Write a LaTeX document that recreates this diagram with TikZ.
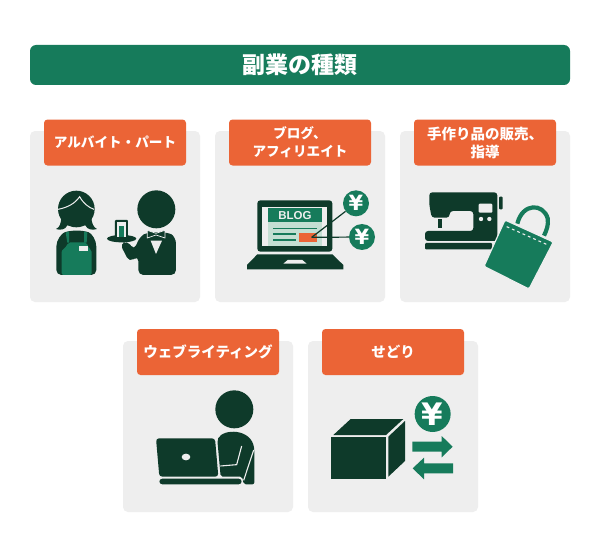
\documentclass[tikz,border=0pt]{standalone}
\usepackage{fontspec}
\setmainfont{Noto Sans CJK JP}
\newfontfamily\latinb{Liberation Sans}
\newfontfamily\yenfont{DejaVu Sans}
\definecolor{dk}{HTML}{0E3A2A}
\definecolor{gr}{HTML}{167B5B}
\definecolor{org}{HTML}{EB6436}
\definecolor{cardbg}{HTML}{EEEEEE}
\definecolor{lgr}{HTML}{C4DFD3}
\tikzset{
  card/.style={fill=cardbg,draw=none,rounded corners=5pt,minimum width=170pt,minimum height=171pt,inner sep=0pt},
  label/.style={fill=org,draw=none,rounded corners=3.5pt,minimum width=142pt,minimum height=46pt,inner sep=0pt,text=white,align=center,font=\bfseries\fontsize{13.6}{18}\selectfont},
  labelwide/.style={label,font=\bfseries\fontsize{14.5}{18}\selectfont},
  titlebar/.style={fill=gr,draw=none,rounded corners=6pt,minimum width=540pt,minimum height=40pt,inner sep=0pt,text=white,font=\bfseries\fontsize{23}{26}\selectfont},
  yen/.style={circle,fill=gr,draw=none,inner sep=0pt,text=white},
  icon/.style={shift={#1},scale=1/3}
}
\begin{document}
\begin{tikzpicture}[x=1pt,y=-1pt]
\useasboundingbox (0,0) rectangle (600,551);
\fill[white] (0,0) rectangle (600,551);
\node[titlebar] (title) at (300,65) {副業の種類};
\node[card] (c1) at (115,216.5) {};
\node[card] (c2) at (300,216.5) {};
\node[card] (c3) at (485,216.5) {};
\node[card] (c4) at (208,426.5) {};
\node[card] (c5) at (393,426.5) {};
\node[label] (l1) at (115,142.5) {アルバイト・パート};
\node[label] (l2) at (300,142.5) {ブログ、\\アフィリエイト};
\node[labelwide] (l3) at (485,142.5) {手作り品の販売、\\指導};
\node[labelwide] (l4) at (208,352) {ウェブライティング};
\node[labelwide] (l5) at (393,352) {せどり};
% waitress and waiter
\begin{scope}[icon={(30,120)}]
  \fill[dk] (139,267) circle (55);
  \fill[dk] (78,327) .. controls (90,322) and (92,310) .. (94,295) -- (184,295) .. controls (186,310) and (190,322) .. (201,327) .. controls (188,331) and (172,330) .. (166,316) -- (112,316) .. controls (106,330) and (90,331) .. (78,327) -- cycle;
  \draw[cardbg,line width=1pt] (84,268) .. controls (115,262) and (135,250) .. (149,230) .. controls (160,250) and (175,262) .. (192,268);
  \fill[dk,rounded corners=5pt] (79,465) -- (79,395) .. controls (79,360) and (95,340) .. (118,332) -- (162,332) .. controls (185,340) and (199,360) .. (199,395) -- (199,465) -- cycle;
  \fill[gr,rounded corners=2pt] (95,465) -- (95,402) .. controls (95,388) and (107,385) .. (115,367) -- (162,367) -- (170,367) .. controls (175,385) and (185,388) .. (185,402) -- (185,465) -- cycle;
  \fill[gr] (107,338) -- (117,334) -- (117,368) -- (112,368) -- cycle (162,334) -- (172,338) -- (170,368) -- (162,368) -- cycle;
  \fill[cardbg] (148,378) rectangle (173,392);
  % waiter
  \fill[dk] (379,268) circle (57);
  \fill[dk,rounded corners=5pt] (325,465) -- (325,408) -- (298,426) -- (270,372) -- (292,362) -- (312,390) -- (330,350) -- (352,337) -- (410,337) .. controls (430,345) and (438,360) .. (438,385) -- (438,465) -- cycle;
  \fill[cardbg] (362,362) -- (396,362) -- (378,402) -- cycle;
  \fill[dk,draw=cardbg,line width=.7pt] (352,331) -- (378,340) -- (405,331) -- (405,354) -- (378,345) -- (352,354) -- cycle;
  \fill[dk] (275,356) ellipse (44 and 11);
  \fill[dk,rounded corners=1pt] (255,300) rectangle (294,352);
  \fill[cardbg] (261,307) rectangle (288,350);
  \fill[gr] (266,318) rectangle (283,350);
\end{scope}
% laptop + blog
\begin{scope}[icon={(215,115)}]
  \fill[dk,rounded corners=3pt] (127,256) rectangle (352,410);
  \fill[cardbg] (142,275) rectangle (337,392);
  \fill[lgr] (160,280) rectangle (320,392);
  \fill[gr] (160,280) rectangle (320,320);
  \node[text=cardbg,font=\latinb\bfseries\fontsize{11.5}{11.5}\selectfont,inner sep=0pt] (blog) at (240,301) {BLOG};
  \draw[gr,line width=1.1pt] (174,340) -- (305,340) (174,357) -- (243,357) (174,375) -- (243,375);
  \fill[org] (253,353) rectangle (306,381);
  \coordinate (hub1) at (290,367);
  \fill[dk] (127,418) -- (352,418) -- (385,450) -- (385,463) -- (96,463) -- (96,450) -- cycle;
  \fill[cardbg] (218,435) -- (262,435) -- (275,446) -- (205,446) -- cycle;
  \node[yen,minimum size=26pt,font=\yenfont\bfseries\fontsize{21}{21}\selectfont] (y1) at (423,265) {¥};
  \node[yen,minimum size=26pt,font=\yenfont\bfseries\fontsize{21}{21}\selectfont] (y2) at (441,366) {¥};
  \draw[dk,line width=1.2pt] (hub1) -- (y1);
  \draw[dk,line width=1.2pt] (hub1) -- (y2);
\end{scope}
% sewing machine + bag
\begin{scope}[icon={(400,115)}]
  \fill[dk,rounded corners=3pt,even odd rule] (88,232) -- (292,232) -- (292,378) -- (75,378) -- (75,348) -- (220,348) -- (220,288) -- (150,288) -- (148,308) -- (95,308) -- (88,270) -- cycle;
  \fill[dk] (114,312) rectangle (125,338);
  \fill[dk,rounded corners=1pt] (75,384) rectangle (276,403);
  \fill[dk,rounded corners=1pt] (297,245) rectangle (308,283);
  \fill[cardbg,rounded corners=1pt] (236,266) rectangle (277,293);
  \fill[cardbg] (243,312) circle (6.5) (268,312) circle (6.5);
  \draw[gr,line width=4.2pt] (352,326) .. controls (368,262) and (430,265) .. (443,310) .. controls (446,330) and (440,345) .. (432,362);
  \fill[gr,draw=cardbg,line width=1.2pt,rounded corners=2pt] (315,315) -- (460,381) -- (387,522) -- (252,454) -- cycle;
  \draw[cardbg,line width=1.1pt,dash pattern=on 2.8pt off 3pt] (320,335) -- (446,391);
\end{scope}
% web writer
\begin{scope}[icon={(120,325)}]
  \fill[dk] (343,253) circle (57);
  \fill[dk,rounded corners=3pt] (108,340) -- (285,340) -- (295,455) -- (118,455) -- cycle;
  \fill[cardbg] (198,396) ellipse (13 and 10);
  \fill[dk,rounded corners=3pt] (118,461) rectangle (365,478);
  \fill[dk,rounded corners=2pt] (292,345) .. controls (310,310) and (395,310) .. (403,375) -- (403,478) -- (371,478) -- (367,455) -- (302,455) -- cycle;
  \draw[cardbg,line width=1.1pt] (365,363) -- (350,419) -- (301,423);
  \draw[cardbg,line width=1.1pt] (401,375) -- (371,466);
\end{scope}
% box
\begin{scope}[icon={(305,325)}]
  \fill[dk] (77,337) rectangle (243,462);
  \fill[dk] (85,330) -- (137,282) -- (295,282) -- (243,330) -- cycle;
  \fill[dk] (250,335) -- (300,288) -- (300,408) -- (250,455) -- cycle;
  \node[yen,minimum size=36pt,font=\yenfont\bfseries\fontsize{31}{31}\selectfont] (y3) at (383,267) {¥};
  \fill[gr] (322,350) -- (410,350) -- (410,333) -- (443,365) -- (410,397) -- (410,380) -- (322,380) -- cycle;
  \fill[gr] (444,415) -- (357,415) -- (357,398) -- (323,430) -- (357,463) -- (357,445) -- (444,445) -- cycle;
\end{scope}
\end{tikzpicture}
\end{document}
